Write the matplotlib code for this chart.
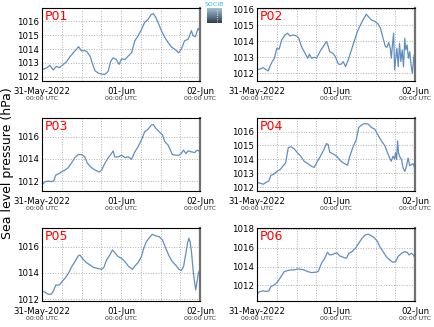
import numpy as np
import pandas as pd
import matplotlib
matplotlib.use('Agg')
import matplotlib.pyplot as plt
import matplotlib.dates as mdates
from matplotlib.ticker import FuncFormatter, MultipleLocator

start = pd.Timestamp('2022-05-31 00:00')

# hours since 31-May-2022 00:00 UTC, pressure in hPa
p01_h = [0.0, 1.4, 2.4, 3.4, 4.4, 5.3, 6.5, 7.5, 8.5, 9.5, 10.5, 11.1, 12.0, 13.0, 13.7, 14.6, 15.4, 16.1,
         17.1, 18.1, 19.1, 20.1, 20.9, 21.6, 22.6, 23.4, 24.2, 25.2, 26.2, 27.2, 28.2, 29.2, 30.2, 31.2,
         32.2, 33.2, 33.8, 34.5, 35.3, 36.3, 37.3, 38.3, 39.3, 40.3, 41.5, 42.3, 43.3, 44.4, 45.4, 45.9,
         46.6, 47.4, 47.9]
p01_v = [1012.52, 1012.64, 1012.83, 1012.5, 1012.76, 1012.66, 1012.9, 1013.1, 1013.45, 1013.74, 1014.0,
         1014.18, 1013.87, 1013.9, 1013.8, 1013.5, 1012.9, 1012.44, 1012.27, 1012.2, 1012.17, 1012.4,
         1013.13, 1013.37, 1013.25, 1012.9, 1013.3, 1013.25, 1013.5, 1013.74, 1014.6, 1014.97, 1015.4,
         1015.95, 1016.15, 1016.5, 1016.56, 1016.33, 1015.9, 1015.33, 1014.85, 1014.48, 1014.16, 1014.0,
         1013.74, 1014.0, 1014.6, 1014.72, 1015.33, 1014.97, 1014.9, 1015.5, 1015.33]

p02_h = [0.0, 0.9, 1.9, 2.6, 3.4, 3.9, 4.6, 5.3, 6.0, 6.7, 7.5, 8.5, 9.3, 10.0, 11.0, 12.0, 12.7, 13.5,
         14.6, 15.4, 15.9, 16.6, 17.4, 18.1, 19.1, 20.1, 21.1, 21.6, 22.1, 23.1, 23.8, 24.7, 25.5, 26.2,
         26.9, 27.7, 28.7, 29.5, 30.5, 31.2, 32.2, 33.2, 34.0, 34.8, 35.8, 36.8, 37.5, 38.3, 39.0, 39.5,
         40.0, 40.5, 40.8, 41.1, 41.5, 41.8, 42.1, 42.5, 42.9, 43.3, 43.7, 44.1, 44.5, 44.9, 45.2, 45.6,
         46.0, 46.4, 46.8, 47.2, 47.6, 47.9]
p02_v = [1012.21, 1012.27, 1012.35, 1012.25, 1012.15, 1012.42, 1012.73, 1012.94, 1013.56, 1013.5,
         1014.08, 1014.4, 1014.5, 1014.33, 1014.4, 1014.33, 1014.19, 1013.67, 1013.25, 1012.94, 1013.19,
         1012.94, 1013.0, 1012.94, 1013.35, 1013.67, 1013.98, 1013.71, 1013.35, 1013.25, 1013.04, 1012.58,
         1012.56, 1012.73, 1012.42, 1012.83, 1013.46, 1013.98, 1014.6, 1014.92, 1015.33, 1015.69, 1015.5,
         1015.33, 1015.25, 1015.08, 1014.81, 1014.19, 1013.67, 1013.63, 1013.92, 1013.56, 1012.94, 1013.67,
         1014.5, 1012.21, 1012.83, 1013.56, 1012.42, 1013.88, 1012.73, 1013.46, 1012.42, 1014.19, 1013.46,
         1013.77, 1012.94, 1013.35, 1012.52, 1012.0, 1012.94, 1013.25]

p03_h = [0.0, 0.9, 1.9, 2.9, 3.6, 4.2, 5.3, 6.3, 7.0, 8.0, 9.0, 10.0, 11.0, 12.0, 13.0, 13.7, 14.8, 15.8,
         16.8, 17.4, 18.1, 19.1, 20.1, 21.1, 21.6, 22.1, 23.1, 24.2, 25.2, 26.2, 27.2, 28.2, 29.2, 30.2,
         31.2, 32.2, 33.2, 33.8, 34.6, 35.6, 36.6, 37.3, 38.3, 39.0, 39.6, 40.6, 41.6, 42.3, 43.0, 43.7,
         44.4, 45.4, 46.4, 47.1, 47.9]
p03_v = [1011.64, 1011.94, 1012.0, 1011.94, 1012.03, 1012.54, 1012.69, 1012.9, 1012.98, 1013.22, 1013.64,
         1014.12, 1014.39, 1014.39, 1014.18, 1013.64, 1013.28, 1013.04, 1012.9, 1012.81, 1012.98, 1013.59,
         1014.09, 1014.48, 1014.72, 1014.18, 1014.18, 1014.33, 1014.12, 1014.18, 1013.97, 1014.63, 1015.1,
         1015.7, 1016.45, 1016.66, 1017.05, 1017.1, 1016.75, 1016.45, 1016.15, 1015.55, 1015.25, 1014.8,
         1014.39, 1014.33, 1014.33, 1014.48, 1014.8, 1014.48, 1014.72, 1014.63, 1014.57, 1014.78, 1014.69]

p04_h = [0.0, 0.9, 1.9, 2.9, 3.6, 4.2, 5.3, 6.3, 7.0, 8.0, 8.7, 9.5, 10.3, 11.3, 12.3, 13.3, 14.3, 15.4,
         16.6, 17.4, 18.1, 19.1, 20.1, 21.1, 21.6, 22.1, 23.1, 24.2, 25.2, 26.2, 27.5, 28.2, 29.2, 30.2,
         30.9, 31.7, 32.7, 33.8, 34.8, 35.8, 36.8, 37.8, 38.8, 39.6, 40.3, 40.8, 41.3, 41.8, 42.1, 42.4,
         42.7, 43.0, 43.3, 43.9, 44.4, 44.9, 45.4, 45.9, 46.4, 46.9, 47.4, 47.9]
p04_v = [1012.36, 1012.29, 1012.22, 1012.36, 1012.46, 1012.85, 1012.97, 1013.19, 1013.26, 1013.55,
         1013.75, 1014.84, 1014.91, 1014.76, 1014.47, 1014.23, 1013.87, 1013.7, 1013.5, 1013.43, 1013.75,
         1014.16, 1014.6, 1015.13, 1015.08, 1014.52, 1014.4, 1014.23, 1013.94, 1013.75, 1013.58, 1014.23,
         1014.91, 1015.44, 1016.29, 1016.46, 1016.58, 1016.53, 1016.29, 1016.17, 1015.73, 1015.32, 1015.0,
         1014.52, 1014.1, 1013.87, 1014.23, 1014.04, 1014.47, 1013.99, 1015.32, 1014.47, 1014.23, 1013.99,
         1013.38, 1013.14, 1013.5, 1014.1, 1013.55, 1013.62, 1013.7, 1013.38]

p05_h = [0.0, 0.9, 1.9, 2.9, 3.6, 4.2, 5.3, 6.3, 7.0, 8.0, 9.0, 10.0, 11.0, 11.5, 12.5, 13.5, 14.6, 15.6,
         16.8, 18.1, 18.8, 19.6, 20.6, 21.4, 22.1, 23.1, 24.2, 25.2, 26.2, 27.5, 28.2, 29.2, 30.2, 30.9,
         31.7, 32.7, 33.5, 34.6, 35.6, 36.6, 37.6, 38.6, 39.6, 40.6, 41.6, 42.3, 43.0, 43.7, 44.2, 44.6,
         45.0, 45.4, 45.9, 46.4, 46.7, 47.1, 47.5, 47.9]
p05_v = [1012.61, 1012.53, 1012.36, 1012.38, 1012.69, 1013.07, 1013.07, 1013.4, 1013.58, 1013.96,
         1014.47, 1014.85, 1015.29, 1015.36, 1015.03, 1014.78, 1014.6, 1014.42, 1014.34, 1014.27, 1014.42,
         1014.98, 1015.36, 1015.75, 1015.54, 1015.24, 1015.11, 1014.85, 1014.52, 1014.27, 1014.52,
         1014.78, 1015.24, 1015.87, 1016.38, 1016.71, 1016.94, 1016.82, 1016.76, 1016.51, 1015.87,
         1015.29, 1014.85, 1014.6, 1014.27, 1014.17, 1014.47, 1015.49, 1016.25, 1016.64, 1016.38, 1015.62,
         1014.22, 1013.2, 1012.69, 1013.33, 1013.96, 1014.22]

p06_h = [0.0, 0.9, 1.9, 2.9, 3.6, 4.2, 5.3, 6.3, 7.3, 8.3, 9.3, 10.3, 11.3, 12.3, 13.3, 14.3, 15.4, 16.6,
         17.6, 18.6, 19.6, 20.6, 21.4, 22.1, 23.1, 24.2, 25.2, 26.2, 27.2, 27.9, 28.9, 29.9, 30.9, 31.9,
         32.9, 33.8, 34.8, 35.8, 36.6, 37.3, 38.3, 39.3, 40.3, 41.3, 42.1, 42.8, 43.9, 44.9, 45.7, 46.2,
         46.9, 47.5, 47.9]
p06_v = [1011.09, 1011.34, 1011.41, 1011.34, 1011.41, 1011.86, 1012.04, 1012.4, 1012.93, 1013.46,
         1013.57, 1013.64, 1013.64, 1013.74, 1013.71, 1013.64, 1013.46, 1013.35, 1013.39, 1013.46,
         1014.35, 1014.88, 1015.52, 1015.23, 1015.3, 1015.48, 1015.12, 1014.98, 1014.88, 1015.41, 1015.59,
         1015.95, 1016.48, 1017.01, 1017.37, 1017.44, 1017.26, 1017.01, 1016.66, 1016.12, 1015.59,
         1015.05, 1014.7, 1014.45, 1014.52, 1015.05, 1015.41, 1015.59, 1015.48, 1015.23, 1015.41,
         1015.23, 1014.95]

names = ['P01', 'P02', 'P03', 'P04', 'P05', 'P06']
hours = [p01_h, p02_h, p03_h, p04_h, p05_h, p06_h]
values = [p01_v, p02_v, p03_v, p04_v, p05_v, p06_v]
ylims = [(1011.7, 1016.95), (1011.52, 1016.06), (1011.1, 1017.66),
         (1011.73, 1016.95), (1011.85, 1017.4), (1010.33, 1018.07)]
ysteps = [1, 1, 2, 1, 2, 2]

W, H = 435, 327
fig = plt.figure(figsize=(W / 100, H / 100), dpi=100)

lefts = [42, 257]
tops = [8.3, 118.3, 228.3]
aw, ah = 158, 72.7

def fmt(x, pos):
    d = mdates.num2date(x)
    if d.day == 31:
        return d.strftime('%d-%b-%Y')
    return d.strftime('%d-%b')

for i in range(6):
    r, c = i // 2, i % 2
    ax = fig.add_axes([lefts[c] / W, 1 - (tops[r] + ah) / H, aw / W, ah / H])
    t = start + pd.to_timedelta(hours[i], unit='h')
    ax.plot(t, values[i], color='#5f8fc0', lw=0.9)
    ax.set_xlim(start, start + pd.Timedelta(hours=48))
    ax.set_ylim(*ylims[i])
    ax.yaxis.set_major_locator(MultipleLocator(ysteps[i]))
    ax.xaxis.set_major_locator(mdates.HourLocator(byhour=[0]))
    ax.xaxis.set_minor_locator(mdates.HourLocator(byhour=[6, 12, 18]))
    ax.xaxis.set_major_formatter(FuncFormatter(fmt))
    ax.tick_params(which='both', length=0, labelsize=6.2, pad=4)
    ax.tick_params(axis='y', pad=2)
    ax.grid(which='both', ls=':', color='#b0b0b0', lw=0.7)
    for s in ['left', 'top', 'bottom']:
        ax.spines[s].set_linewidth(0.8)
    ax.spines['right'].set_color('#707070')
    ax.spines['right'].set_linewidth(1.6)
    for tk in ax.get_xticks():
        ax.text(tk, -0.235, '00:00 UTC', transform=ax.get_xaxis_transform(),
                ha='center', va='center', fontsize=4.5, color='#333333')
    ax.text(0.02, 0.97, names[i], transform=ax.transAxes, ha='left', va='top',
            fontsize=9, color='red')

fig.text(8 / W, 1 - 163 / H, 'Sea level pressure (hPa)', rotation=90,
         ha='center', va='center', fontsize=9)

# small logo in the top centre
lax = fig.add_axes([207 / W, 1 - 23 / H, 15 / W, 15 / H])
grad = np.linspace(0, 1, 50).reshape(-1, 1)
lax.imshow(grad, cmap=matplotlib.colors.LinearSegmentedColormap.from_list('g', ['#9fc3d8', '#2e3e4e']),
           aspect='auto', extent=(0, 1, 0, 1))
lax.plot([0.7, 0.7], [0.1, 0.9], ls=':', color='white', lw=0.6)
lax.set_xlim(0, 1)
lax.set_ylim(0, 1)
lax.axis('off')
fig.text(214.5 / W, 1 - 5 / H, 'SOCIB', ha='center', va='center', fontsize=4.5, color='#35b6d6')

fig.savefig('out.png', dpi=100)
